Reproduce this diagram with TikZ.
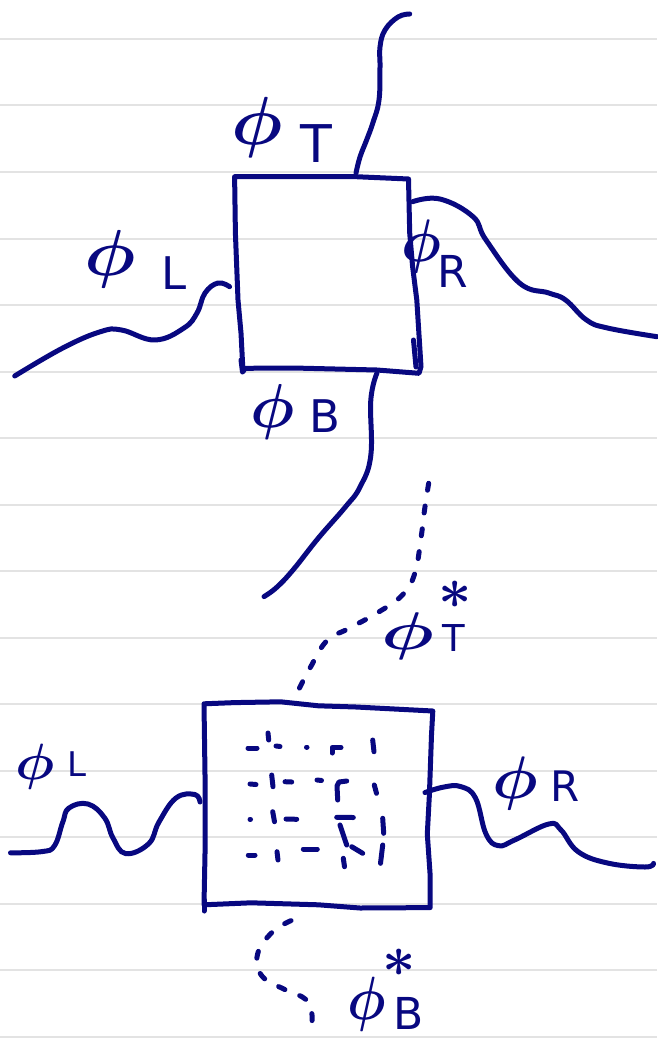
\documentclass[tikz,border=0pt]{standalone}
\usepackage{fontspec}
\newfontfamily\handfont{DejaVu Sans}
\definecolor{inkblue}{RGB}{8,8,128}
% math glyphs only come in fixed sizes here, so they are scaled up instead
\newcommand{\phiglyph}[2]{\scalebox{#1}[#2]{\boldmath$\phi$}}
\newcommand{\starglyph}[1]{\scalebox{#1}{\boldmath$\ast$}}
\tikzset{
  ink/.style={draw=inkblue, line width=5pt, line cap=round, line join=round},
  inkdash/.style={ink, dash pattern=on 7pt off 16pt},
  ruling/.style={draw=black!11, line width=2pt},
  phisym/.style={text=inkblue, inner sep=0pt, anchor=center, font=\fontsize{10}{10}\selectfont},
  subletter/.style={text=inkblue, inner sep=0pt, anchor=center, font=\handfont\fontsize{#1}{#1}\selectfont},
}
\begin{document}
\begin{tikzpicture}[x=1pt, y=-1pt]

  %% ════ ruled paper ════
  \foreach \k in {0,...,15}
    \draw[ruling] (0,{39+66.5*\k}) -- (657,{39+66.5*\k});

  %% ════ upper box and its four legs ════
  \draw[ink] (234.6,176.7) -- (356,176.7) -- (408.5,179) -- (409.7,233) -- (412.6,266.7)
    -- (416.8,300) -- (421,366.7) -- (419,373.3) -- (377,370) -- (293,368) -- (245,368.3)
    -- (243,371.7) -- (241,333) -- (238,300) -- (235.4,233) -- cycle;
  \draw[ink] (413.5,340) -- (416,367);   % retraced corner
  \draw[ink] (241,360) -- (242.5,372);

  \draw[ink] plot[smooth, tension=0.7] coordinates {(356,173) (360,157) (366.6,140) (372.8,123)
    (379,100) (380,67) (380,47) (385,30) (398,17) (409.7,14)};
  \draw[ink] plot[smooth, tension=0.7] coordinates {(229.6,286.7) (218,283) (205,293) (197,313)
    (184,328) (155,340) (121.5,330) (100.5,331.7) (62.8,348) (14.7,376)};
  \draw[ink] plot[smooth, tension=0.7] coordinates {(412.6,201.7) (440,199) (473,216.7) (486,240)
    (519.5,283) (548.8,293) (565.6,300) (586.5,320) (607.5,328) (657,336.7)};
  \draw[ink] plot[smooth, tension=0.7] coordinates {(377,373) (370.8,400) (370.8,455.5) (360,487)
    (345.6,506.7) (318.4,538) (293,570) (276.5,587.5) (264,596.6)};

  %% ════ lower box, solid side legs, dotted top/bottom legs ════
  \draw[ink] (204,703.8) -- (234.6,702.6) -- (280.7,701.8) -- (318.4,705.8) -- (356,707)
    -- (432.8,711) -- (431.5,735) -- (429.4,794.5) -- (427.3,834) -- (430,873) -- (430.2,907.6)
    -- (360,908) -- (318.4,904.8) -- (251,902.8) -- (204,904.8) -- (205,853.6) -- (205,774.7) -- cycle;
  \draw[ink] (204,900) -- (204,911);

  \draw[inkdash] plot[smooth, tension=0.7] coordinates {(299.5,688) (310,668) (326.8,640.7)
    (347.7,629) (377,613) (402,595.4) (414.7,573.7) (421,538) (425,506.7) (430.7,471)};
  \draw[ink] plot[smooth, tension=0.7] coordinates {(200,802) (194.8,794.5) (176,798) (159,822)
    (148.7,843.7) (125.7,853.6) (113,838) (104.7,818) (88,804) (69,808) (62.8,822) (54.5,845.7)
    (41.9,851.6) (10.5,852.8)};
  \draw[ink] plot[smooth, tension=0.7] coordinates {(425,792.5) (444,787) (460.8,786.6) (475.5,798)
    (486,834) (498.5,845.7) (515,839.8) (548.8,824) (561,830) (578,851.6) (607.5,863) (645,867)
    (653.5,863.4)};
  \draw[inkdash] plot[smooth, tension=0.7] coordinates {(291,920.6) (272,932.4) (257.6,954)
    (261.8,975.8) (284.9,989.6) (305.8,999.4) (312,1015) (310,1035)};

  %% ════ broken strokes inside the lower box (row by row) ════
  \draw[ink] (248,748) -- (257,748);
  \draw[ink] (268,733) -- (268.7,740);
  \draw[ink] (276,746) -- (280,746.5);
  \draw[ink] (306.5,747) -- (307,747);
  \draw[ink] (332,753) -- (332,747.5) -- (341,747.5);
  \draw[ink] (372.7,740) -- (374,751.7);

  \draw[ink] (250,784) -- (256,784.5);
  \draw[ink] (271.7,775) -- (273,786.7);
  \draw[ink] (285,781.7) -- (291.7,782);
  \draw[ink] (317,780) -- (321.5,780.5);
  \draw[ink] (337.7,800) -- (337,786) -- (339,782) -- (346.7,781);
  \draw[ink] (374.3,785) -- (376.5,793.3);

  \draw[ink] (250,819.3) -- (250.5,819.3);
  \draw[ink] (272.7,811.7) -- (274.5,821.7);
  \draw[ink] (286,819) -- (296.7,819.3);
  \draw[ink] (336.7,817.3) -- (353.3,817.5);
  \draw[ink] (382.7,818.3) -- (383.7,833.3);

  \draw[ink] (248.3,855) -- (255,855);
  \draw[ink] (277,851.7) -- (278,860);
  \draw[ink] (303.3,849) -- (317.3,849);
  \draw[ink] (340,825) -- (346.7,845);
  \draw[ink] (351.7,846.7) -- (362.7,853.3);
  \draw[ink] (343.3,858.3) -- (344.5,866.7);
  \draw[ink] (382.7,845) -- (380.5,863.3);

  %% ════ labels ════
  \node[phisym] (phiT) at (257.5,127.5) {\phiglyph{7.2}{6.8}};
  \node[subletter=52] (labT) at (316,144) {T};
  \node[phisym] (phiL) at (110,259) {\phiglyph{7.2}{6.5}};
  \node[subletter=45] (labL) at (174.5,273.5) {L};
  \node[phisym] (phiR) at (421,246) {\phiglyph{5.6}{6.0}};
  \node[subletter=44] (labR) at (453,271) {R};
  \node[phisym] (phiB) at (273,412) {\phiglyph{6.2}{6.2}};
  \node[subletter=45] (labB) at (325,416.5) {B};

  \node[phisym] (phiTs) at (408,636.5) {\phiglyph{7.4}{5.3}};
  \node[subletter=37] (labTs) at (454,638.5) {T};
  \node[phisym] (starT) at (455,594.5) {\starglyph{5.8}};
  \node[phisym] (phiLo) at (35,767) {\phiglyph{5.5}{5.1}};
  \node[subletter=34] (labLo) at (76.5,764.5) {L};
  \node[phisym] (phiRo) at (515,783.5) {\phiglyph{6.4}{6.0}};
  \node[subletter=42] (labRo) at (565.5,786.5) {R};
  \node[phisym] (phiBs) at (367,1004.5) {\phiglyph{5.4}{6.1}};
  \node[subletter=44] (labBs) at (409,1013) {B};
  \node[phisym] (starB) at (399,962.5) {\starglyph{5.8}};

  % fix the canvas to the reference size
  \pgfresetboundingbox
  \path[use as bounding box] (0,0) rectangle (657,1038);
\end{tikzpicture}
\end{document}
